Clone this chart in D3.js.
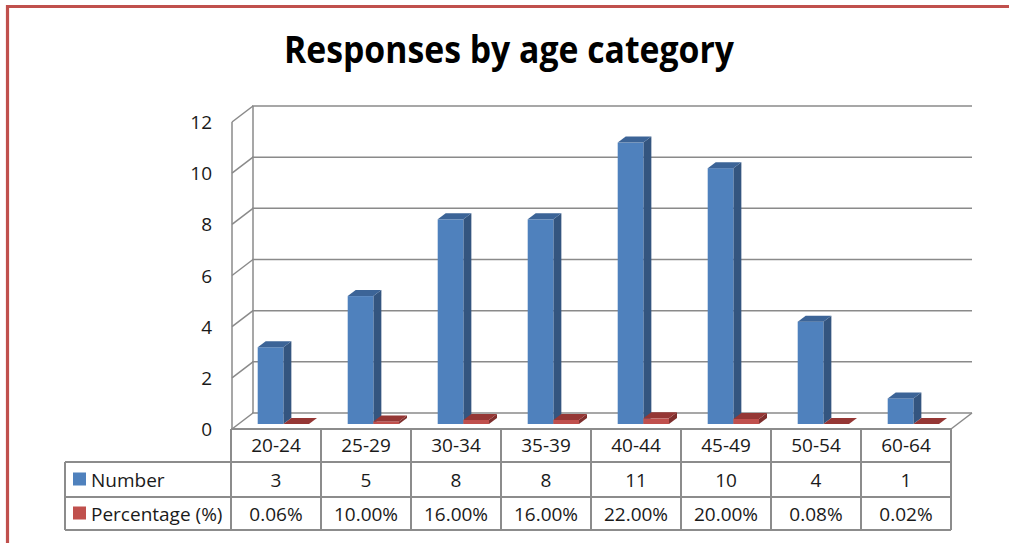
<!DOCTYPE html>
<html>
<head>
<meta charset="utf-8">
<title>Responses by age category</title>
<script src="https://d3js.org/d3.v7.min.js"></script>
<style>
  body { margin: 0; background: #fff; }
  svg { display: block; font-family: "Open Sans", "Noto Sans", sans-serif; }
  .cell { font-size: 19px; fill: #1a1a1a; text-anchor: middle; }
  .ylab { font-size: 19px; fill: #1a1a1a; text-anchor: end; }
</style>
</head>
<body>
<div id="chart"></div>
<script>
// Data
const categories = ["20-24", "25-29", "30-34", "35-39", "40-44", "45-49", "50-54", "60-64"];
const numbers = [3, 5, 8, 8, 11, 10, 4, 1];
const percentages = [0.06, 10, 16, 16, 22, 20, 0.08, 0.02];
const seriesNames = ["Number", "Percentage (%)"];
const yTicks = [0, 2, 4, 6, 8, 10, 12];

const width = 1009, height = 543;

const svg = d3.select("#chart").append("svg")
  .attr("width", width)
  .attr("height", height);

// red frame
svg.append("path")
  .attr("d", `M7.5,${height} V6.5 H${width}`)
  .attr("fill", "none")
  .attr("stroke", "#c0504d")
  .attr("stroke-width", 3.2);

// title
svg.append("text")
  .attr("x", 509)
  .attr("y", 63)
  .attr("text-anchor", "middle")
  .attr("font-size", 37)
  .attr("font-weight", 700)
  .attr("textLength", 450)
  .attr("lengthAdjust", "spacingAndGlyphs")
  .text("Responses by age category");

// scales
const plotLeft = 231, plotRight = 951;
const floorFront = 429;
const wallDx = 21, wallDy = -16;   // depth of the floor / side wall
const barBase = 424;               // bars stand in the middle of the floor
const barDx = 8, barDy = -6;       // depth of each bar

const x = d3.scaleBand().domain(categories).range([plotLeft, plotRight]);
const xs = d3.scaleBand().domain(seriesNames).range([26.7, 78]);
const yLen = d3.scaleLinear().domain([0, 12]).range([0, 307]);

const gridColor = "#8a8a8a";
const g = svg.append("g");

// back wall gridlines + diagonal ticks to the front axis
yTicks.forEach(t => {
  const yb = floorFront + wallDy - yLen(t);
  const yf = floorFront - yLen(t);
  g.append("line")
    .attr("x1", plotLeft + wallDx).attr("x2", plotRight + wallDx)
    .attr("y1", yb).attr("y2", yb)
    .attr("stroke", gridColor).attr("stroke-width", 1.5);
  g.append("line")
    .attr("x1", plotLeft + 1).attr("y1", yf)
    .attr("x2", plotLeft + wallDx + 1).attr("y2", yb)
    .attr("stroke", gridColor).attr("stroke-width", 1.5);
  g.append("text")
    .attr("class", "ylab")
    .attr("x", 212)
    .attr("y", yf + 7)
    .text(t);
});

// wall verticals
g.append("line")
  .attr("x1", plotLeft + wallDx + 1).attr("x2", plotLeft + wallDx + 1)
  .attr("y1", floorFront + wallDy - yLen(12)).attr("y2", floorFront + wallDy)
  .attr("stroke", gridColor).attr("stroke-width", 1.5);
g.append("line")
  .attr("x1", plotLeft + 1).attr("x2", plotLeft + 1)
  .attr("y1", floorFront - yLen(12)).attr("y2", floorFront)
  .attr("stroke", gridColor).attr("stroke-width", 1.5);

// right floor edge
g.append("line")
  .attr("x1", plotRight).attr("y1", floorFront)
  .attr("x2", plotRight + wallDx).attr("y2", floorFront + wallDy)
  .attr("stroke", gridColor).attr("stroke-width", 1.5);

// 3D bars
const palette = {
  "Number": { front: "#4f81bd", side: "#34557f", top: "#3c6497" },
  "Percentage (%)": { front: "#c0504d", side: "#7e2f2d", top: "#953735" }
};

const barData = [];
categories.forEach((c, i) => {
  barData.push({ cat: c, series: "Number", value: numbers[i] });
  barData.push({ cat: c, series: "Percentage (%)", value: percentages[i] / 100 });
});

const bw = xs.bandwidth();
const bars = g.selectAll(".bar")
  .data(barData)
  .join("g")
  .attr("class", "bar");

bars.each(function (d) {
  const sel = d3.select(this);
  const x0 = x(d.cat) + xs(d.series);
  const h = yLen(d.value);
  const yTop = barBase - h;
  const col = palette[d.series];
  // side
  sel.append("path")
    .attr("d", `M${x0 + bw},${barBase} L${x0 + bw + barDx},${barBase + barDy} L${x0 + bw + barDx},${yTop + barDy} L${x0 + bw},${yTop} Z`)
    .attr("fill", col.side);
  // front
  sel.append("rect")
    .attr("x", x0).attr("y", yTop)
    .attr("width", bw).attr("height", h)
    .attr("fill", col.front);
  // top
  sel.append("path")
    .attr("d", `M${x0},${yTop} L${x0 + barDx},${yTop + barDy} L${x0 + bw + barDx},${yTop + barDy} L${x0 + bw},${yTop} Z`)
    .attr("fill", col.top);
});

// data table
const tableLeft = 65;
const rowLines = [floorFront, 462, 497, 530];
const tColor = "#8c8c8c";
const t = svg.append("g");

t.append("line")
  .attr("x1", plotLeft).attr("x2", plotRight)
  .attr("y1", rowLines[0]).attr("y2", rowLines[0])
  .attr("stroke", tColor).attr("stroke-width", 2);
rowLines.slice(1).forEach(yy => {
  t.append("line")
    .attr("x1", tableLeft).attr("x2", plotRight)
    .attr("y1", yy).attr("y2", yy)
    .attr("stroke", tColor).attr("stroke-width", 2);
});
t.append("line")
  .attr("x1", tableLeft).attr("x2", tableLeft)
  .attr("y1", rowLines[1]).attr("y2", rowLines[3])
  .attr("stroke", tColor).attr("stroke-width", 2);
categories.concat([null]).forEach((c, i) => {
  const xx = c === null ? plotRight : x(c);
  t.append("line")
    .attr("x1", xx).attr("x2", xx)
    .attr("y1", rowLines[0]).attr("y2", rowLines[3])
    .attr("stroke", tColor).attr("stroke-width", 2);
});

const fmtPct = d3.format(".2f");
const center = c => x(c) + x.bandwidth() / 2;

t.selectAll(".catlab").data(categories).join("text")
  .attr("class", "cell")
  .attr("x", d => center(d))
  .attr("y", 452)
  .text(d => d);

t.selectAll(".numlab").data(numbers).join("text")
  .attr("class", "cell")
  .attr("x", (d, i) => center(categories[i]))
  .attr("y", 487)
  .text(d => d);

t.selectAll(".pctlab").data(percentages).join("text")
  .attr("class", "cell")
  .attr("x", (d, i) => center(categories[i]))
  .attr("y", 521)
  .text(d => fmtPct(d) + "%");

// legend keys in the table
seriesNames.forEach((s, i) => {
  const yMid = (rowLines[i + 1] + rowLines[i + 2]) / 2;
  t.append("rect")
    .attr("x", 73).attr("y", yMid - 7)
    .attr("width", 13).attr("height", 13)
    .attr("fill", palette[s].front);
  t.append("text")
    .attr("x", 91).attr("y", yMid + 7)
    .attr("font-size", 19)
    .attr("fill", "#1a1a1a")
    .text(s);
});
</script>
</body>
</html>
